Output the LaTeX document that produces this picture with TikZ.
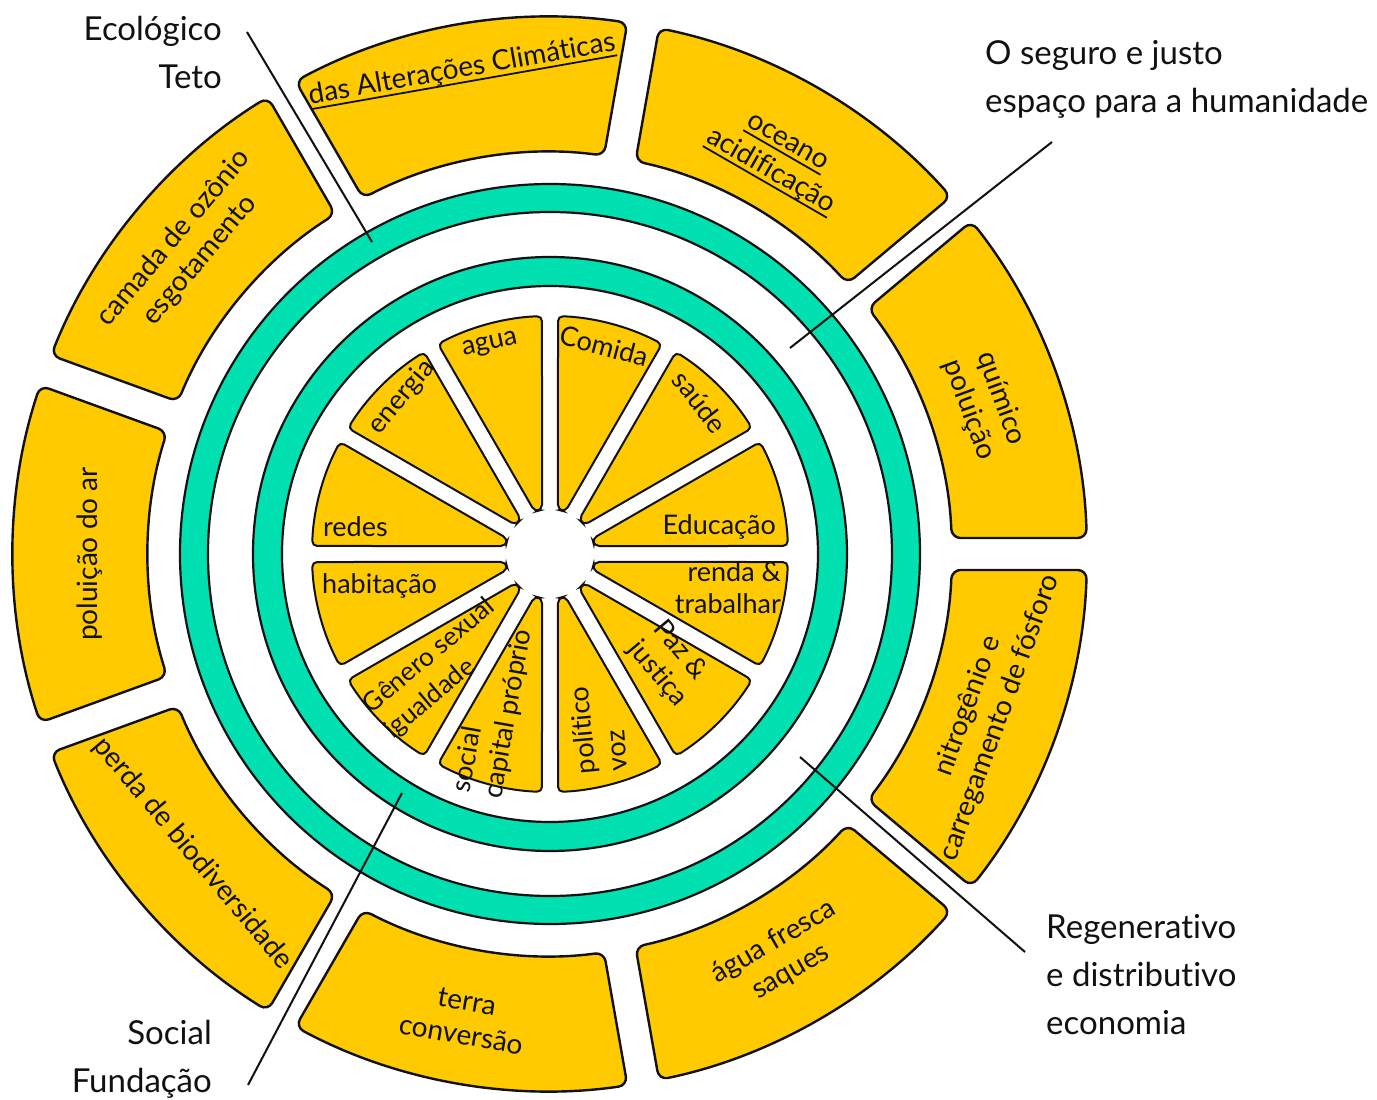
\documentclass[tikz,border=0pt]{standalone}
\usepackage{fontspec}
\setmainfont{Lato}[Ligatures=NoCommon]
\usepackage{tikz}
\usetikzlibrary{positioning,calc}
\definecolor{ink} {HTML}{111111}
\definecolor{sun} {HTML}{FFCA00}
\definecolor{mint}{HTML}{00E0B0}
\newcommand{\ulbox}[1]{\setbox0\hbox{#1}\rlap{\rule[-6pt]{\wd0}{1.8pt}}\box0}
\tikzset{
  % --- shapes
  ring/.style  = {draw=ink, line width=2.2pt},
  seg/.style   = {draw=ink, fill=sun, line width=2.4pt, rounded corners=9pt},
  slice/.style = {draw=ink, fill=sun, line width=2pt, rounded corners=5pt},
  % --- texts
  lbl/.style   = {inner sep=0pt, text=ink, font=\fontsize{33}{48}\selectfont},
  seglbl/.style= {inner sep=0pt, text=ink, align=center, font=\fontsize{28}{34}\selectfont},
  slbl/.style  = {inner sep=0pt, text=ink, font=\fontsize{27}{32}\selectfont},
  % --- leader lines
  lead/.style  = {draw=ink, line width=2pt},
}
\begin{document}
\begin{tikzpicture}[x=1pt,y=1pt]
  \useasboundingbox (-550,-546) rectangle (827,554);

  % the two rings
  \draw[ring, fill=mint]  (0,0) circle[radius=370];
  \draw[ring, fill=white] (0,0) circle[radius=342];
  \draw[ring, fill=mint]  (0,0) circle[radius=297];
  \draw[ring, fill=white] (0,0) circle[radius=268];

  % outer boundaries
  \foreach \a in {100,60,20,-20,-60,-100,-140,180,140} {
    \draw[seg] (\a-18.29:537) arc[start angle=\a-18.29, end angle=\a+18.29, radius=537]
      -- (\a+17.72:402) arc[start angle=\a+17.72, end angle=\a-17.72, radius=402] -- cycle;
  }

  % inner foundation slices
  \foreach \a in {0,30,...,330} {
    \draw[slice] (\a+10.2:45) -- (\a+1.93:238)
      arc[start angle=\a+1.93, end angle=\a+28.07, radius=238] -- (\a+19.8:45) -- cycle;
  }

  % boundary labels
  \node[seglbl, rotate=10]  (climate) at (-88,484)    {\ulbox{das Alterações Climáticas}};
  \node[seglbl, rotate=-30] (ocean)   at (60:456)     {\ulbox{oceano}\\\ulbox{acidificação}};
  \node[seglbl, rotate=-70] (chem)    at (19:460)     {químico\\poluição};
  \node[seglbl, rotate=70]  (nitro)   at (-20:462)    {nitrogênio e\\carregamento de fósforo};
  \node[seglbl, rotate=30]  (fresh)   at (-60:465)    {água fresca\\saques};
  \node[seglbl, rotate=-10] (land)    at (-100.5:472) {terra\\conversão};
  \node[seglbl, rotate=-50] (bio)     at (-140:466)   {perda de biodiversidade};
  \node[seglbl, rotate=90]  (air)     at (180:460)    {poluição do ar};
  \node[seglbl, rotate=50]  (ozone)   at (140:474)    {camada de ozônio\\esgotamento};

  % foundation labels
  \node[slbl, rotate=-15] (food)   at (54,208)    {Comida};
  \node[slbl, rotate=12]  (water)  at (-60,209)   {agua};
  \node[slbl, rotate=50]  (energy) at (-148,157)  {energia};
  \node[slbl, rotate=-52] (health) at (150,152)   {saúde};
  \node[slbl, anchor=east] (edu)   at (226,27)    {Educação};
  \node[slbl, anchor=west] (net)   at (-227,27)   {redes};
  \node[slbl, anchor=west] (house) at (-228,-32)  {habitação};
  \node[slbl, anchor=east, align=right] (work) at (231,-34) {renda \&\\trabalhar};
  \node[slbl, rotate=-50, align=left] (peace)  at (120,-110) {Paz \&\\justiça};
  \node[slbl, rotate=95, align=left]  (voice)  at (48,-175)  {político\\voz};
  \node[slbl, rotate=80, align=left]  (equity) at (-57,-157) {social\\capital próprio};
  \node[slbl, rotate=40, align=left, font=\fontsize{26}{33}\selectfont]
    (gender) at (-110,-115) {Gênero sexual\\igualdade};

  % side labels
  \node[lbl, anchor=east, align=right] (eco)    at (-328,502)  {Ecológico\\Teto};
  \node[lbl, anchor=west, align=left]  (safe)   at (435,475)   {O seguro e justo\\espaço para a humanidade};
  \node[lbl, anchor=west, align=left]  (regen)  at (496,-421)  {Regenerativo\\e distributivo\\economia};
  \node[lbl, anchor=east, align=right] (social) at (-338,-505) {Social\\Fundação};

  \coordinate (eco-a)    at (-303,522);
  \coordinate (eco-b)    at (-178,312);
  \coordinate (safe-a)   at (502,412);
  \coordinate (safe-b)   at (240,206);
  \coordinate (regen-a)  at (475,-398);
  \coordinate (regen-b)  at (250,-203);
  \coordinate (social-a) at (-302,-531);
  \coordinate (social-b) at (-148,-239);

  \draw[lead] (eco-a) -- (eco-b);
  \draw[lead] (safe-a) -- (safe-b);
  \draw[lead] (regen-a) -- (regen-b);
  \draw[lead] (social-a) -- (social-b);
\end{tikzpicture}
\end{document}
